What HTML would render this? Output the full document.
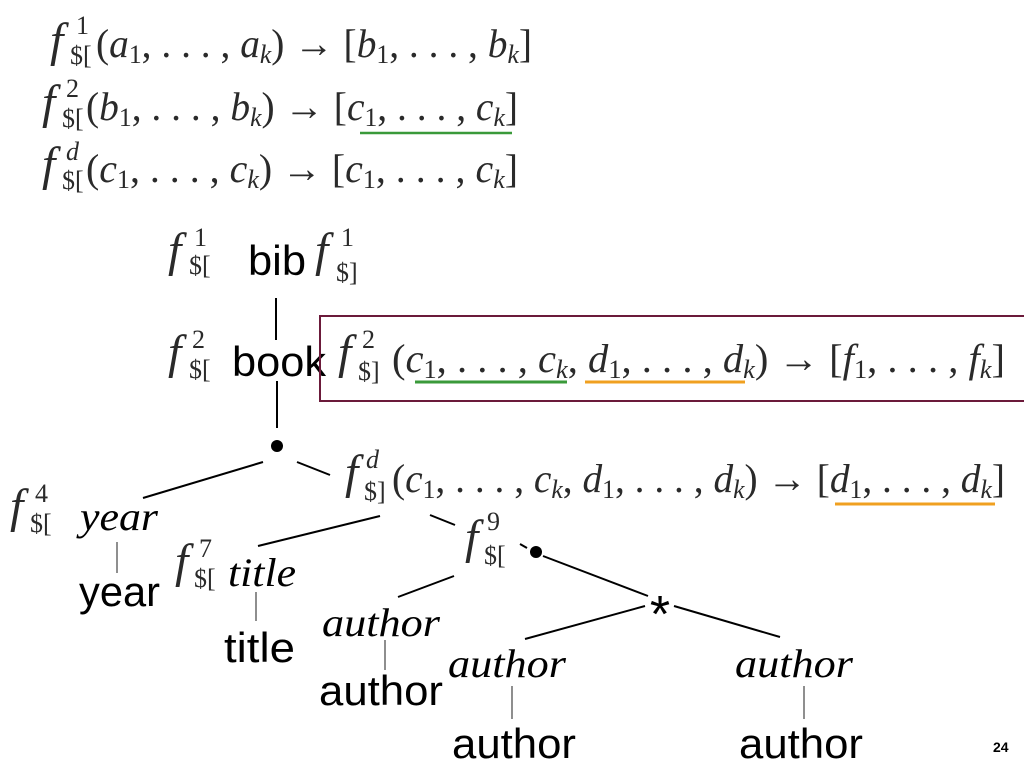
<!DOCTYPE html>
<html><head><meta charset="utf-8"><style>
html,body{margin:0;padding:0;background:#fff;}
svg{display:block;}
.m{font-family:"Liberation Serif",serif;font-size:40px;fill:#2a2a2a;}
.fi{font-family:"Liberation Serif",serif;font-style:italic;font-size:48px;fill:#2a2a2a;}
.s{font-family:"Liberation Serif",serif;font-size:26px;fill:#2a2a2a;}
.it{font-family:"Liberation Serif",serif;font-style:italic;font-size:40px;fill:#000;}
.sa{font-family:"Liberation Sans",sans-serif;font-size:42px;fill:#000;}
</style></head><body>
<svg width="1024" height="768" viewBox="0 0 1024 768" xmlns="http://www.w3.org/2000/svg">
<!-- Line 1 -->
<text class="fi" x="50" y="56">f</text><text class="s" x="76" y="34">1</text><text class="s" x="70" y="64">$[</text>
<text class="m" x="96" y="57" textLength="436" lengthAdjust="spacingAndGlyphs">(<tspan font-style="italic">a</tspan><tspan font-size="26" dy="6">1</tspan><tspan dy="-6">, . . . , </tspan><tspan font-style="italic">a</tspan><tspan font-size="26" font-style="italic" dy="6">k</tspan><tspan dy="-6">) → [</tspan><tspan font-style="italic">b</tspan><tspan font-size="26" dy="6">1</tspan><tspan dy="-6">, . . . , </tspan><tspan font-style="italic">b</tspan><tspan font-size="26" font-style="italic" dy="6">k</tspan><tspan dy="-6">]</tspan></text>
<!-- Line 2 -->
<text class="fi" x="42" y="118">f</text><text class="s" x="66" y="97">2</text><text class="s" x="62" y="127">$[</text>
<text class="m" x="86" y="120" textLength="432" lengthAdjust="spacingAndGlyphs">(<tspan font-style="italic">b</tspan><tspan font-size="26" dy="6">1</tspan><tspan dy="-6">, . . . , </tspan><tspan font-style="italic">b</tspan><tspan font-size="26" font-style="italic" dy="6">k</tspan><tspan dy="-6">) → [</tspan><tspan font-style="italic">c</tspan><tspan font-size="26" dy="6">1</tspan><tspan dy="-6">, . . . , </tspan><tspan font-style="italic">c</tspan><tspan font-size="26" font-style="italic" dy="6">k</tspan><tspan dy="-6">]</tspan></text>
<line x1="360" y1="133" x2="512" y2="133" stroke="#3a9a3a" stroke-width="2.5"/>
<!-- Line 3 -->
<text class="fi" x="42" y="180">f</text><text class="s" x="66" y="160" font-style="italic">d</text><text class="s" x="62" y="189">$[</text>
<text class="m" x="86" y="182" textLength="432" lengthAdjust="spacingAndGlyphs">(<tspan font-style="italic">c</tspan><tspan font-size="26" dy="6">1</tspan><tspan dy="-6">, . . . , </tspan><tspan font-style="italic">c</tspan><tspan font-size="26" font-style="italic" dy="6">k</tspan><tspan dy="-6">) → [</tspan><tspan font-style="italic">c</tspan><tspan font-size="26" dy="6">1</tspan><tspan dy="-6">, . . . , </tspan><tspan font-style="italic">c</tspan><tspan font-size="26" font-style="italic" dy="6">k</tspan><tspan dy="-6">]</tspan></text>

<!-- bib -->
<text class="fi" x="168" y="266">f</text><text class="s" x="194" y="246">1</text><text class="s" x="189" y="274">$[</text>
<text class="sa" x="248" y="275" textLength="58" lengthAdjust="spacingAndGlyphs">bib</text>
<text class="fi" x="315" y="266">f</text><text class="s" x="341" y="246">1</text><text class="s" x="336" y="281">$]</text>
<line x1="276" y1="298" x2="276" y2="340" stroke="#000" stroke-width="2"/>
<!-- book -->
<text class="fi" x="168" y="368">f</text><text class="s" x="192" y="348">2</text><text class="s" x="189" y="378">$[</text>
<text class="sa" x="232" y="376" textLength="94" lengthAdjust="spacingAndGlyphs">book</text>
<line x1="277" y1="381" x2="277" y2="428" stroke="#000" stroke-width="2"/>
<rect x="320" y="316" width="710" height="85" fill="none" stroke="#6b1a3a" stroke-width="2"/>
<text class="fi" x="338" y="368">f</text><text class="s" x="362" y="348">2</text><text class="s" x="358" y="380">$]</text>
<text class="m" x="392" y="372" textLength="613" lengthAdjust="spacingAndGlyphs">(<tspan font-style="italic">c</tspan><tspan font-size="26" dy="6">1</tspan><tspan dy="-6">, . . . , </tspan><tspan font-style="italic">c</tspan><tspan font-size="26" font-style="italic" dy="6">k</tspan><tspan dy="-6">, </tspan><tspan font-style="italic">d</tspan><tspan font-size="26" dy="6">1</tspan><tspan dy="-6">, . . . , </tspan><tspan font-style="italic">d</tspan><tspan font-size="26" font-style="italic" dy="6">k</tspan><tspan dy="-6">) → [</tspan><tspan font-style="italic">f</tspan><tspan font-size="26" dy="6">1</tspan><tspan dy="-6">, . . . , </tspan><tspan font-style="italic">f</tspan><tspan font-size="26" font-style="italic" dy="6">k</tspan><tspan dy="-6">]</tspan></text>
<line x1="415" y1="382" x2="567" y2="382" stroke="#3a9a3a" stroke-width="3"/>
<line x1="585" y1="382" x2="745" y2="382" stroke="#f0a020" stroke-width="3"/>
<!-- dot -->
<circle cx="277" cy="446" r="6" fill="#000"/>
<line x1="263" y1="462" x2="143" y2="498" stroke="#000" stroke-width="2"/>
<line x1="297" y1="462" x2="330" y2="475" stroke="#000" stroke-width="2"/>
<!-- fd line -->
<text class="fi" x="345" y="488">f</text><text class="s" x="366" y="468" font-style="italic">d</text><text class="s" x="364" y="500">$]</text>
<text class="m" x="392" y="492" textLength="613" lengthAdjust="spacingAndGlyphs">(<tspan font-style="italic">c</tspan><tspan font-size="26" dy="6">1</tspan><tspan dy="-6">, . . . , </tspan><tspan font-style="italic">c</tspan><tspan font-size="26" font-style="italic" dy="6">k</tspan><tspan dy="-6">, </tspan><tspan font-style="italic">d</tspan><tspan font-size="26" dy="6">1</tspan><tspan dy="-6">, . . . , </tspan><tspan font-style="italic">d</tspan><tspan font-size="26" font-style="italic" dy="6">k</tspan><tspan dy="-6">) → [</tspan><tspan font-style="italic">d</tspan><tspan font-size="26" dy="6">1</tspan><tspan dy="-6">, . . . , </tspan><tspan font-style="italic">d</tspan><tspan font-size="26" font-style="italic" dy="6">k</tspan><tspan dy="-6">]</tspan></text>
<line x1="835" y1="504" x2="995" y2="504" stroke="#f0a020" stroke-width="3"/>
<!-- year -->
<text class="fi" x="10" y="522">f</text><text class="s" x="35" y="502">4</text><text class="s" x="30" y="532">$[</text>
<text class="it" x="80" y="530" textLength="78" lengthAdjust="spacingAndGlyphs">year</text>
<line x1="117" y1="542" x2="117" y2="573" stroke="#444" stroke-width="1.2"/>
<text class="sa" x="79" y="606" textLength="81" lengthAdjust="spacingAndGlyphs">year</text>
<line x1="380" y1="516" x2="258" y2="546" stroke="#000" stroke-width="2"/>
<line x1="430" y1="515" x2="455" y2="525" stroke="#000" stroke-width="2"/>
<!-- title -->
<text class="fi" x="175" y="577">f</text><text class="s" x="199" y="557">7</text><text class="s" x="194" y="587">$[</text>
<text class="it" x="228" y="586" textLength="68" lengthAdjust="spacingAndGlyphs">title</text>
<line x1="256" y1="592" x2="256" y2="621" stroke="#444" stroke-width="1.2"/>
<text class="sa" x="224" y="662" textLength="71" lengthAdjust="spacingAndGlyphs">title</text>
<!-- f9 -->
<text class="fi" x="465" y="553">f</text><text class="s" x="487" y="530">9</text><text class="s" x="484" y="564">$[</text>
<line x1="520" y1="544" x2="527" y2="548" stroke="#000" stroke-width="2"/>
<circle cx="536" cy="552" r="6" fill="#000"/>
<line x1="543" y1="556" x2="648" y2="596" stroke="#000" stroke-width="2"/>
<line x1="454" y1="576" x2="398" y2="597" stroke="#000" stroke-width="2"/>
<text x="660" y="632" text-anchor="middle" font-family="Liberation Sans,sans-serif" font-size="52" fill="#000">*</text>
<line x1="645" y1="606" x2="525" y2="639" stroke="#000" stroke-width="2"/>
<line x1="674" y1="606" x2="780" y2="637" stroke="#000" stroke-width="2"/>
<!-- authors -->
<text class="it" x="322" y="636" textLength="118" lengthAdjust="spacingAndGlyphs">author</text>
<line x1="385" y1="640" x2="385" y2="670" stroke="#444" stroke-width="1.2"/>
<text class="sa" x="319" y="705" textLength="124" lengthAdjust="spacingAndGlyphs">author</text>
<text class="it" x="448" y="677" textLength="118" lengthAdjust="spacingAndGlyphs">author</text>
<line x1="512" y1="686" x2="512" y2="719" stroke="#444" stroke-width="1.2"/>
<text class="sa" x="452" y="758" textLength="124" lengthAdjust="spacingAndGlyphs">author</text>
<text class="it" x="735" y="677" textLength="118" lengthAdjust="spacingAndGlyphs">author</text>
<line x1="804" y1="686" x2="804" y2="719" stroke="#444" stroke-width="1.2"/>
<text class="sa" x="739" y="758" textLength="124" lengthAdjust="spacingAndGlyphs">author</text>
<text x="993" y="752" font-family="Liberation Sans,sans-serif" font-weight="bold" font-size="14" fill="#000">24</text>
</svg>
</body></html>
